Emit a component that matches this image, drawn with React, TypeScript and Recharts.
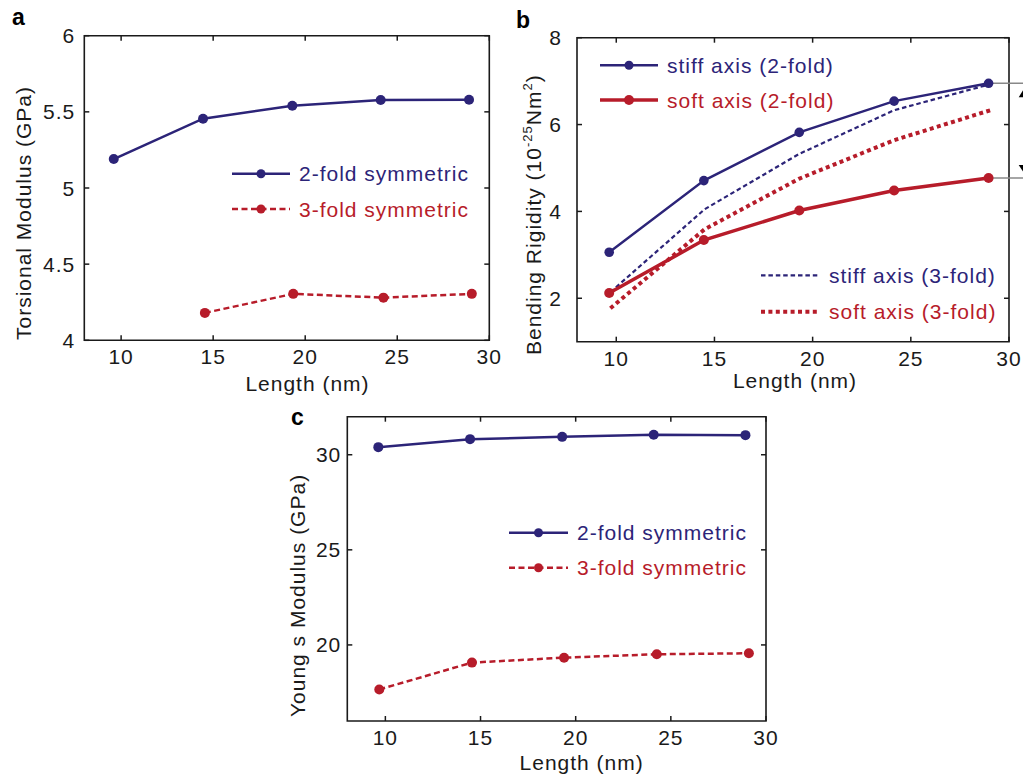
import React from "react";
import { LineChart, Line, XAxis, YAxis, ReferenceArea, ReferenceLine, Legend, Label } from "recharts";

const FONT = "'Liberation Sans', Arial, Helvetica, sans-serif";
const NAVY = "#2c2478";
const RED = "#b71c2a";
const INK = "#1a1a1a";

// a: torsional modulus (GPa)
const lenA2 = [9.6, 14.45, 19.3, 24.1, 28.9];
const torsion2 = [5.19, 5.455, 5.54, 5.578, 5.58];
const lenA3 = [14.55, 19.35, 24.25, 29.05];
const torsion3 = [4.18, 4.305, 4.28, 4.305];

// b: bending rigidity (1e-25 Nm^2)
const lenB2 = [9.64, 14.46, 19.32, 24.15, 28.96];
const stiff2 = [3.06, 4.71, 5.82, 6.54, 6.95];
const soft2 = [2.12, 3.34, 4.02, 4.48, 4.77];
const lenB3 = [9.7, 14.5, 19.3, 24.15, 29.05];
const stiff3 = [2.14, 4.05, 5.32, 6.33, 6.93];
const soft3 = [1.77, 3.59, 4.75, 5.64, 6.33];

// c: young's modulus (GPa)
const lenC2 = [9.63, 14.45, 19.29, 24.1, 28.92];
const young2 = [30.4, 30.82, 30.94, 31.05, 31.03];
const lenC3 = [9.68, 14.55, 19.39, 24.26, 29.1];
const young3 = [17.66, 19.07, 19.33, 19.51, 19.56];

const xTicks = [10, 15, 20, 25, 30];
const ticksA = [4, 4.5, 5, 5.5, 6];
const ticksB = [2, 4, 6, 8];
const ticksC = [20, 25, 30];

const zip = (xs: number[], ys: number[]) => xs.map((x, i) => ({ len: x, v: ys[i] }));

const AX = 40; // axis band size, taken out of the margins

const txt: React.CSSProperties = { fontFamily: FONT, fontSize: 21, letterSpacing: 1 };

const xTick = (plotH: number) => (props: any) => {
  const { x, y, payload } = props;
  return (
    <g>
      <line x1={x} x2={x} y1={y} y2={y - 5} stroke={INK} strokeWidth={1.5} />
      <line x1={x} x2={x} y1={y - plotH} y2={y - plotH + 5} stroke={INK} strokeWidth={1.5} />
      <text x={x} y={y + 24} textAnchor="middle" fill={INK} style={txt}>{payload.value}</text>
    </g>
  );
};

const yTick = (plotW: number, gap: number) => (props: any) => {
  const { x, y, payload } = props;
  return (
    <g>
      <line x1={x} x2={x + 5} y1={y} y2={y} stroke={INK} strokeWidth={1.5} />
      <line x1={x + plotW} x2={x + plotW - 5} y1={y} y2={y} stroke={INK} strokeWidth={1.5} />
      <text x={x - gap} y={y + 7.5} textAnchor="end" fill={INK} style={txt}>{payload.value}</text>
    </g>
  );
};

const xLabel = (dx: number, dy: number) => (props: any) => {
  const { x, y, width } = props.viewBox;
  return (
    <text x={x + width / 2 + dx} y={y + dy} textAnchor="middle" fill={INK} style={txt}>Length (nm)</text>
  );
};

const yLabel = (dx: number, dy: number, content: React.ReactNode) => (props: any) => {
  const { x, y, width, height } = props.viewBox;
  const cx = x + width - dx;
  const cy = y + height / 2 + dy;
  return (
    <text x={cx} y={cy} textAnchor="middle" fill={INK} style={txt} transform={`rotate(-90, ${cx}, ${cy})`}>
      {content}
    </text>
  );
};

type Row = { x: number; y: number; w: number; color: string; width: number; dash?: string; dot?: number; label: string };

function LegendRow({ x, y, w, color, width, dash, dot, label }: Row) {
  return (
    <g>
      <line x1={x} x2={x + w} y1={y} y2={y} stroke={color} strokeWidth={width} strokeDasharray={dash} />
      {dot ? <circle cx={x + w / 2} cy={y} r={dot} fill={color} /> : null}
      <text x={x + w + 9} y={y + 7.5} fill={color} style={txt}>{label}</text>
    </g>
  );
}

const legendBox = (w: number, h: number, rows: Row[]) => () => (
  <svg width={w} height={h} style={{ position: "absolute", left: 0, top: 0, overflow: "visible" }}>
    {rows.map((r) => <LegendRow key={r.label} {...r} />)}
  </svg>
);

const legendWrap: React.CSSProperties = { left: 0, top: 0, width: 0, height: 0, overflow: "visible" };

function Triangle(dir: "up" | "down") {
  return (props: any) => {
    const { x, y, width } = props.viewBox;
    const cx = x + width;
    const pts = dir === "up"
      ? `${cx - 6},${y + 14} ${cx + 6},${y + 14} ${cx},${y + 4}`
      : `${cx - 6},${y - 13} ${cx + 6},${y - 13} ${cx},${y - 4}`;
    return <polygon points={pts} fill="#000" />;
  };
}

function PanelA() {
  const W = 510, H = 400;
  const m = { top: 35.7, left: 84.3, right: 20.7, bottom: 59.7 };
  const pw = W - m.left - m.right, ph = H - m.top - m.bottom;
  return (
    <LineChart width={W} height={H} margin={{ ...m, left: m.left - AX, bottom: m.bottom - AX }}>
      <ReferenceArea x1={8} x2={30} y1={4} y2={6} fill="none" stroke={INK} strokeWidth={1.6} />
      <XAxis type="number" dataKey="len" domain={[8, 30]} ticks={xTicks} interval={0} allowDataOverflow
        height={AX} tickSize={0} tickMargin={0} tickLine={false} axisLine={false} tick={xTick(ph)}>
        <Label content={xLabel(20.7, 50.7)} />
      </XAxis>
      <YAxis type="number" domain={[4, 6]} ticks={ticksA} interval={0} allowDataOverflow
        width={AX} tickSize={0} tickMargin={0} tickLine={false} axisLine={false} tick={yTick(pw, 9)}>
        <Label content={yLabel(53.3, 25, "Torsional Modulus (GPa)")} />
      </YAxis>
      <Line data={zip(lenA2, torsion2)} dataKey="v" name="2-fold symmetric" type="linear" stroke={NAVY} strokeWidth={2.5}
        dot={{ r: 5, fill: NAVY, stroke: NAVY, strokeWidth: 0 }} isAnimationActive={false} />
      <Line data={zip(lenA3, torsion3)} dataKey="v" name="3-fold symmetric" type="linear" stroke={RED} strokeWidth={2.5}
        strokeDasharray="6 3.5" dot={{ r: 5, fill: RED, stroke: RED, strokeWidth: 0, strokeDasharray: "" }} isAnimationActive={false} />
      <Legend layout="horizontal" verticalAlign="middle" align="center" wrapperStyle={legendWrap}
        content={legendBox(W, H, [
          { x: 232, y: 173.7, w: 58, color: NAVY, width: 2.5, dot: 4.5, label: "2-fold symmetric" },
          { x: 232, y: 209, w: 58, color: RED, width: 2.5, dash: "6 3.5", dot: 4.5, label: "3-fold symmetric" },
        ])} />
    </LineChart>
  );
}

function PanelB() {
  const W = 513, H = 400;
  const m = { top: 37.7, left: 67, right: 14, bottom: 58.3 };
  const pw = W - m.left - m.right, ph = H - m.top - m.bottom;
  const last = lenB2.length - 1;
  return (
    <LineChart width={W} height={H} margin={{ ...m, left: m.left - AX, bottom: m.bottom - AX }}>
      <ReferenceArea x1={8} x2={30} y1={1} y2={8} fill="none" stroke={INK} strokeWidth={1.6} />
      <XAxis type="number" dataKey="len" domain={[8, 30]} ticks={xTicks} interval={0} allowDataOverflow
        height={AX} tickSize={0} tickMargin={0} tickLine={false} axisLine={false} tick={xTick(ph)}>
        <Label content={xLabel(2, 46.3)} />
      </XAxis>
      <YAxis type="number" domain={[1, 8]} ticks={ticksB} interval={0} allowDataOverflow
        width={AX} tickSize={0} tickMargin={0} tickLine={false} axisLine={false} tick={yTick(pw, 15)}>
        <Label content={yLabel(35.5, 25, <>
          Bending Rigidity (10<tspan dy={-9} fontSize={13}>-25</tspan><tspan dy={9}>Nm</tspan><tspan dy={-9} fontSize={13}>2</tspan><tspan dy={9}>)</tspan>
        </>)} />
      </YAxis>
      <ReferenceLine ifOverflow="visible" stroke="#888" strokeWidth={1.5}
        segment={[{ x: lenB2[last], y: stiff2[last] }, { x: 30.8, y: stiff2[last] }]} label={Triangle("up")} />
      <ReferenceLine ifOverflow="visible" stroke="#888" strokeWidth={1.5}
        segment={[{ x: lenB2[last], y: soft2[last] }, { x: 30.8, y: soft2[last] }]} label={Triangle("down")} />
      <Line data={zip(lenB3, stiff3)} dataKey="v" name="stiff axis (3-fold)" type="linear" stroke={NAVY} strokeWidth={2.2}
        strokeDasharray="4.5 2.9" dot={false} isAnimationActive={false} />
      <Line data={zip(lenB3, soft3)} dataKey="v" name="soft axis (3-fold)" type="linear" stroke={RED} strokeWidth={4}
        strokeDasharray="4 3.4" dot={false} isAnimationActive={false} />
      <Line data={zip(lenB2, stiff2)} dataKey="v" name="stiff axis (2-fold)" type="linear" stroke={NAVY} strokeWidth={2.4}
        dot={{ r: 4.8, fill: NAVY, stroke: NAVY, strokeWidth: 0 }} isAnimationActive={false} />
      <Line data={zip(lenB2, soft2)} dataKey="v" name="soft axis (2-fold)" type="linear" stroke={RED} strokeWidth={3.5}
        dot={{ r: 5, fill: RED, stroke: RED, strokeWidth: 0 }} isAnimationActive={false} />
      <Legend layout="horizontal" verticalAlign="middle" align="center" wrapperStyle={legendWrap}
        content={legendBox(W, H, [
          { x: 90, y: 65.3, w: 58, color: NAVY, width: 2.4, dot: 4.5, label: "stiff axis (2-fold)" },
          { x: 90, y: 100, w: 58, color: RED, width: 3.5, dot: 5, label: "soft axis (2-fold)" },
          { x: 251, y: 275.3, w: 59, color: NAVY, width: 2.2, dash: "4.5 2.9", label: "stiff axis (3-fold)" },
          { x: 251, y: 311.7, w: 59, color: RED, width: 4, dash: "4 3.4", label: "soft axis (3-fold)" },
        ])} />
    </LineChart>
  );
}

function PanelC() {
  const W = 520, H = 375;
  const m = { top: 16.7, left: 67.3, right: 34, bottom: 54 };
  const pw = W - m.left - m.right, ph = H - m.top - m.bottom;
  return (
    <LineChart width={W} height={H} margin={{ ...m, left: m.left - AX, bottom: m.bottom - AX }}>
      <ReferenceArea x1={8} x2={30} y1={16} y2={32} fill="none" stroke={INK} strokeWidth={1.6} />
      <XAxis type="number" dataKey="len" domain={[8, 30]} ticks={xTicks} interval={0} allowDataOverflow
        height={AX} tickSize={0} tickMargin={0} tickLine={false} axisLine={false} tick={xTick(ph)}>
        <Label content={xLabel(25, 49)} />
      </XAxis>
      <YAxis type="number" domain={[16, 32]} ticks={ticksC} interval={0} allowDataOverflow
        width={AX} tickSize={0} tickMargin={0} tickLine={false} axisLine={false} tick={yTick(pw, 6)}>
        <Label content={yLabel(42.3, 26.6, "Young s Modulus (GPa)")} />
      </YAxis>
      <Line data={zip(lenC2, young2)} dataKey="v" name="2-fold symmetric" type="linear" stroke={NAVY} strokeWidth={2.5}
        dot={{ r: 5, fill: NAVY, stroke: NAVY, strokeWidth: 0 }} isAnimationActive={false} />
      <Line data={zip(lenC3, young3)} dataKey="v" name="3-fold symmetric" type="linear" stroke={RED} strokeWidth={2.5}
        strokeDasharray="6 3.5" dot={{ r: 5, fill: RED, stroke: RED, strokeWidth: 0, strokeDasharray: "" }} isAnimationActive={false} />
      <Legend layout="horizontal" verticalAlign="middle" align="center" wrapperStyle={legendWrap}
        content={legendBox(W, H, [
          { x: 229, y: 132.7, w: 59, color: NAVY, width: 2.5, dot: 4.5, label: "2-fold symmetric" },
          { x: 229, y: 167.7, w: 59, color: RED, width: 2.5, dash: "6 3.5", dot: 4.5, label: "3-fold symmetric" },
        ])} />
    </LineChart>
  );
}

const panelTag: React.CSSProperties = { fontFamily: FONT, fontSize: 23, fontWeight: 700 };

export default function App() {
  return (
    <div style={{ position: "absolute", left: 0, top: 0, width: 1023, height: 775, background: "#fff", overflow: "hidden" }}>
      <div style={{ position: "absolute", left: 0, top: 0 }}><PanelA /></div>
      <div style={{ position: "absolute", left: 510, top: 0 }}><PanelB /></div>
      <div style={{ position: "absolute", left: 280, top: 400 }}><PanelC /></div>
      <svg width={1023} height={775} style={{ position: "absolute", left: 0, top: 0, pointerEvents: "none" }}>
        <text x={12} y={25} fill="#000" style={panelTag}>a</text>
        <text x={516} y={28} fill="#000" style={panelTag}>b</text>
        <text x={291} y={425} fill="#000" style={panelTag}>c</text>
      </svg>
    </div>
  );
}
